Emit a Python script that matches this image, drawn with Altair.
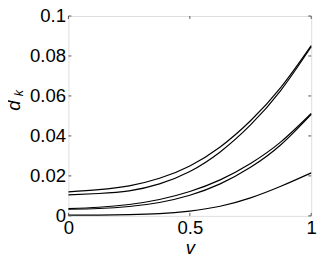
import altair as alt
import pandas as pd

v = [0.0, 0.125, 0.25, 0.375, 0.5, 0.625, 0.75, 0.875, 1.0]
curve_a = [0.0120, 0.0131, 0.0150, 0.0188, 0.0250, 0.0345, 0.0476, 0.0643, 0.0852]
curve_b = [0.0105, 0.0112, 0.0125, 0.0160, 0.0222, 0.0320, 0.0455, 0.0628, 0.0846]
curve_c = [0.0036, 0.0043, 0.0057, 0.0082, 0.0122, 0.0180, 0.0262, 0.0370, 0.0512]
curve_d = [0.0033, 0.0037, 0.0047, 0.0067, 0.0103, 0.0160, 0.0243, 0.0356, 0.0508]
curve_e = [0.0004, 0.0004, 0.0006, 0.0011, 0.0024, 0.0048, 0.0090, 0.0148, 0.0215]
yticks = [0, 0.02, 0.04, 0.06, 0.08, 0.1]
xticks = [0, 0.5, 1]

rows = []
for name, ys in [("a", curve_a), ("b", curve_b), ("c", curve_c), ("d", curve_d), ("e", curve_e)]:
    for xv, yv in zip(v, ys):
        rows.append({"v": xv, "dk": yv, "s": name})
df = pd.DataFrame(rows)

W, H = 249, 205
FONT = "Liberation Sans"

xs = alt.Scale(domain=[0, 1], nice=False, zero=False)
ys_ = alt.Scale(domain=[0, 0.1], nice=False)

lines = alt.Chart(df).mark_line(color="black", strokeWidth=1.2, interpolate="natural").encode(
    x=alt.X("v:Q", scale=xs, axis=alt.Axis(values=xticks, labelExpr="format(datum.value, '~g')",
                                             ticks=False, grid=False, domain=False,
                                             labelFont=FONT, labelFontSize=19, labelColor="black",
                                             labelPadding=3, labelFlush=False,
                                             title="v", titleFont=FONT, titleFontSize=19,
                                             titleFontStyle="italic", titleFontWeight="normal",
                                             titleColor="black", titlePadding=2)),
    y=alt.Y("dk:Q", scale=ys_, axis=alt.Axis(values=yticks, labelExpr="format(datum.value, '~g')",
                                              ticks=False, grid=False, domain=False,
                                              labelFont=FONT, labelFontSize=19, labelColor="black",
                                              labelPadding=3, labelFlush=False, title=None)),
    detail="s:N",
)

ydf = pd.DataFrame({"t": yticks})
xdf = pd.DataFrame({"t": xticks})
tick_color = "#555555"
yt_left = alt.Chart(ydf).mark_rule(color=tick_color, strokeWidth=1).encode(
    y=alt.Y("t:Q", scale=ys_), x=alt.value(0), x2=alt.value(3))
yt_right = alt.Chart(ydf).mark_rule(color=tick_color, strokeWidth=1).encode(
    y=alt.Y("t:Q", scale=ys_), x=alt.value(W - 3), x2=alt.value(W))
xt_bottom = alt.Chart(xdf).mark_rule(color=tick_color, strokeWidth=1).encode(
    x=alt.X("t:Q", scale=xs), y=alt.value(H), y2=alt.value(H - 3))
xt_top = alt.Chart(xdf).mark_rule(color=tick_color, strokeWidth=1).encode(
    x=alt.X("t:Q", scale=xs), y=alt.value(0), y2=alt.value(3))

title_d = alt.Chart(pd.DataFrame({"t": ["d"]})).mark_text(
    font=FONT, fontSize=19, fontStyle="italic", angle=270, align="center", baseline="middle",
    color="black").encode(text="t:N", x=alt.value(-56), y=alt.value(92))
title_k = alt.Chart(pd.DataFrame({"t": ["k"]})).mark_text(
    font=FONT, fontSize=13, fontStyle="italic", angle=270, align="center", baseline="middle",
    color="black").encode(text="t:N", x=alt.value(-51), y=alt.value(79))

chart = alt.layer(lines, yt_left, yt_right, xt_bottom, xt_top, title_d, title_k).properties(
    width=W, height=H,
    autosize=alt.AutoSizeParams(type="none"),
    padding={"left": 62, "top": 5, "right": 8, "bottom": 40},
).configure_view(stroke="#808080", strokeWidth=1).configure(background="white")

chart.save("out.html", embed_options={"renderer": "svg", "actions": False})
